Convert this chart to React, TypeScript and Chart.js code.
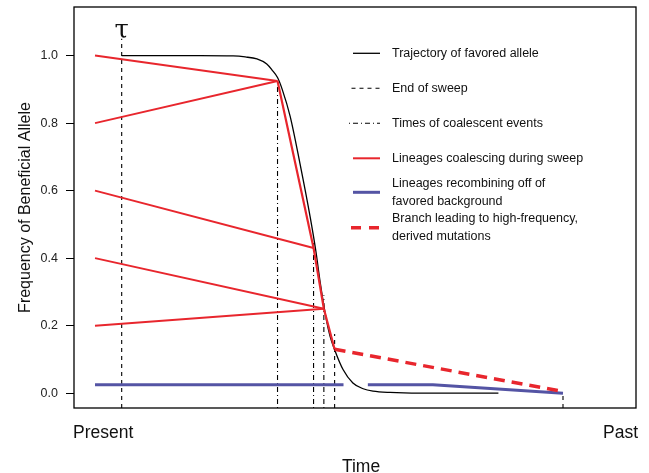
import React, { useEffect, useRef } from "react";
import { Chart, registerables } from "chart.js";

Chart.register(...registerables);

// ---- data (time: 0 = present, 100 = past) ----
const yTicks = [0, 0.2, 0.4, 0.6, 0.8, 1.0];

const tauTime = 5.7;
const tauTop = 1.05;

const coalescentTimes = [39.0, 46.7, 48.9];
const coalescentTops = [0.925, 0.45, 0.29];

const sweepEndTime = 51.2;
const sweepEndTop = 0.175;

const pastTime = 100;
const pastTop = 0.0;

const trajectoryTime = [5.7, 22.4, 29.5, 32.1, 34.6, 36.7, 37.8, 39.0, 40.0, 41.7, 43.8, 46.0, 47.2, 48.1, 49.4, 50.2, 51.3, 53.0, 55.1, 57.3, 59.4, 63.0, 69.4, 86.2];
const trajectoryFreq = [1.0, 1.0, 0.999, 0.996, 0.99, 0.975, 0.958, 0.935, 0.9, 0.82, 0.68, 0.52, 0.42, 0.33, 0.22, 0.17, 0.125, 0.07, 0.03, 0.013, 0.006, 0.002, 0.0, 0.0];

const sampleStartTime = 0;
const sampleFreqs = [1.0, 0.8, 0.6, 0.4, 0.2];
const sampleJoinTimes = [39.0, 39.0, 46.7, 48.9, 48.9];
const sampleJoinFreqs = [0.925, 0.925, 0.43, 0.25, 0.25];

const sweepLineageTimes = [39.0, 46.7, 48.9, 51.2];
const sweepLineageFreqs = [0.925, 0.43, 0.25, 0.13];

const branchTimes = [51.2, 100];
const branchFreqs = [0.13, 0.005];

const recombTimesA = [0, 53.1];
const recombFreqsA = [0.025, 0.025];
const recombTimesB = [58.3, 72.2, 100];
const recombFreqsB = [0.025, 0.025, 0.0];

const legendLabels = [
  ["Trajectory of favored allele"],
  ["End of sweep"],
  ["Times of coalescent events"],
  ["Lineages coalescing during sweep"],
  ["Lineages recombining off of", "favored background"],
  ["Branch leading to high-frequency,", "derived mutations"],
];

// ---- styles ----
const RED = "#E8262D";
const BLUE = "#5454A4";
const BLACK = "#000000";
const FONT = "'Liberation Sans', Arial, Helvetica, sans-serif";
const DASH = [4, 4];
const DASHDOT = [1, 3, 5, 3];
const RED_DASH = [11, 7];

const X_MIN = -4.49;
const X_MAX = 115.6;
const Y_MIN = -0.044;
const Y_MAX = 1.144;

const pts = (xs: number[], ys: number[]) => xs.map((x, i) => ({ x, y: ys[i] }));

export default function App() {
  const ref = useRef<HTMLCanvasElement | null>(null);

  useEffect(() => {
    document.body.style.margin = "0";
    const canvas = ref.current;
    if (!canvas) return;

    const datasets: any[] = [];
    // vertical lines
    datasets.push({
      data: pts([tauTime, tauTime], [Y_MIN, tauTop]),
      borderColor: BLACK, borderWidth: 1.1, borderDash: DASH, order: 10,
    });
    coalescentTimes.forEach((t, i) => {
      datasets.push({
        data: pts([t, t], [Y_MIN, coalescentTops[i]]),
        borderColor: BLACK, borderWidth: 1.1, borderDash: DASHDOT, order: 10,
      });
    });
    datasets.push({
      data: pts([sweepEndTime, sweepEndTime], [Y_MIN, sweepEndTop]),
      borderColor: BLACK, borderWidth: 1.1, borderDash: DASH, order: 10,
    });
    datasets.push({
      data: pts([pastTime, pastTime], [Y_MIN, pastTop]),
      borderColor: BLACK, borderWidth: 1.1, borderDash: DASH, order: 10,
    });
    // trajectory
    datasets.push({
      data: pts(trajectoryTime, trajectoryFreq),
      borderColor: BLACK, borderWidth: 1.3, cubicInterpolationMode: "monotone", order: 8,
    });
    // red lineages
    sampleFreqs.forEach((f, i) => {
      datasets.push({
        data: pts([sampleStartTime, sampleJoinTimes[i]], [f, sampleJoinFreqs[i]]),
        borderColor: RED, borderWidth: 2, order: 6,
      });
    });
    datasets.push({
      data: pts(sweepLineageTimes, sweepLineageFreqs),
      borderColor: RED, borderWidth: 2.2, order: 6,
    });
    // blue
    datasets.push({
      data: pts(recombTimesA, recombFreqsA),
      borderColor: BLUE, borderWidth: 3, order: 5,
    });
    datasets.push({
      data: pts(recombTimesB, recombFreqsB),
      borderColor: BLUE, borderWidth: 3, order: 5,
    });
    // red dashed branch
    datasets.push({
      data: pts(branchTimes, branchFreqs),
      borderColor: RED, borderWidth: 3.5, borderDash: RED_DASH, order: 4,
    });

    const decor = {
      id: "decor",
      afterDraw(chart: any) {
        const ctx = chart.ctx as CanvasRenderingContext2D;
        const a = chart.chartArea;
        ctx.save();
        // box
        ctx.strokeStyle = BLACK;
        ctx.lineWidth = 1.3;
        ctx.setLineDash([]);
        ctx.strokeRect(a.left, a.top, a.right - a.left, a.bottom - a.top);

        // tau
        const xs = chart.scales.x;
        ctx.fillStyle = "#111";
        ctx.font = `26px 'DejaVu Serif', 'Liberation Serif', serif`;
        ctx.textAlign = "center";
        ctx.textBaseline = "alphabetic";
        ctx.fillText("τ", xs.getPixelForValue(tauTime), 38);

        // axis texts
        ctx.font = `17.5px ${FONT}`;
        ctx.fillStyle = "#111";
        ctx.textAlign = "left";
        ctx.fillText("Present", 73, 438);
        ctx.fillText("Past", 603, 438);
        ctx.textAlign = "center";
        ctx.fillText("Time", 361, 472);

        ctx.save();
        ctx.translate(30, (a.top + a.bottom) / 2);
        ctx.rotate(-Math.PI / 2);
        ctx.font = `16px ${FONT}`;
        ctx.textAlign = "center";
        ctx.textBaseline = "alphabetic";
        ctx.fillText("Frequency of Beneficial Allele", 0, 0);
        ctx.restore();

        // legend
        const sx0 = 353, sx1 = 380, tx = 392;
        const rows = [
          { y: 53.3, color: BLACK, w: 1.3, dash: [] as number[], lines: [53.3] },
          { y: 88.3, color: BLACK, w: 1.1, dash: DASH, lines: [88.3] },
          { y: 123.3, color: BLACK, w: 1.1, dash: DASHDOT, lines: [123.3] },
          { y: 158.3, color: RED, w: 2, dash: [] as number[], lines: [158.3] },
          { y: 192.3, color: BLUE, w: 3, dash: [] as number[], lines: [183.5, 201.2] },
          { y: 227.7, color: RED, w: 3.5, dash: [10, 8], lines: [219, 236.7] },
        ];
        ctx.font = `12.5px ${FONT}`;
        ctx.textAlign = "left";
        ctx.textBaseline = "middle";
        rows.forEach((r, i) => {
          ctx.beginPath();
          ctx.strokeStyle = r.color;
          ctx.lineWidth = r.w;
          ctx.setLineDash(r.dash);
          ctx.moveTo(i === 2 ? 349 : sx0 - (i === 1 ? 1.5 : 0) - (i === 5 ? 2 : 0), r.y);
          ctx.lineTo(sx1, r.y);
          ctx.stroke();
          ctx.setLineDash([]);
          ctx.fillStyle = "#111";
          legendLabels[i].forEach((txt, j) => ctx.fillText(txt, tx, r.lines[j]));
        });
        ctx.restore();
      },
    };

    const chart = new Chart(canvas, {
      type: "line",
      data: { datasets },
      options: {
        animation: false,
        responsive: false,
        devicePixelRatio: 1,
        parsing: false as any,
        layout: { padding: { left: 0, right: 13, top: 0, bottom: 65 } },
        elements: { point: { radius: 0 }, line: { tension: 0, fill: false } },
        plugins: { legend: { display: false }, tooltip: { enabled: false }, title: { display: false } },
        scales: {
          x: { type: "linear", min: X_MIN, max: X_MAX, display: false },
          y: {
            type: "linear",
            min: Y_MIN,
            max: Y_MAX,
            afterBuildTicks: (s: any) => { s.ticks = yTicks.map((v) => ({ value: v })); },
            afterFit: (s: any) => { s.width = 74; s.paddingTop = 7; },
            ticks: {
              callback: (v: any) => Number(v).toFixed(1),
              font: { family: FONT, size: 12.5 },
              color: "#222",
              padding: 8,
            },
            grid: { drawOnChartArea: false, drawTicks: true, tickLength: 8, color: BLACK, lineWidth: 1 },
            border: { display: false },
          },
        },
      },
      plugins: [decor],
    } as any);

    return () => chart.destroy();
  }, []);

  return (
    <div style={{ width: 649, height: 473, background: "#fff" }}>
      <canvas ref={ref} width={649} height={473} />
    </div>
  );
}
